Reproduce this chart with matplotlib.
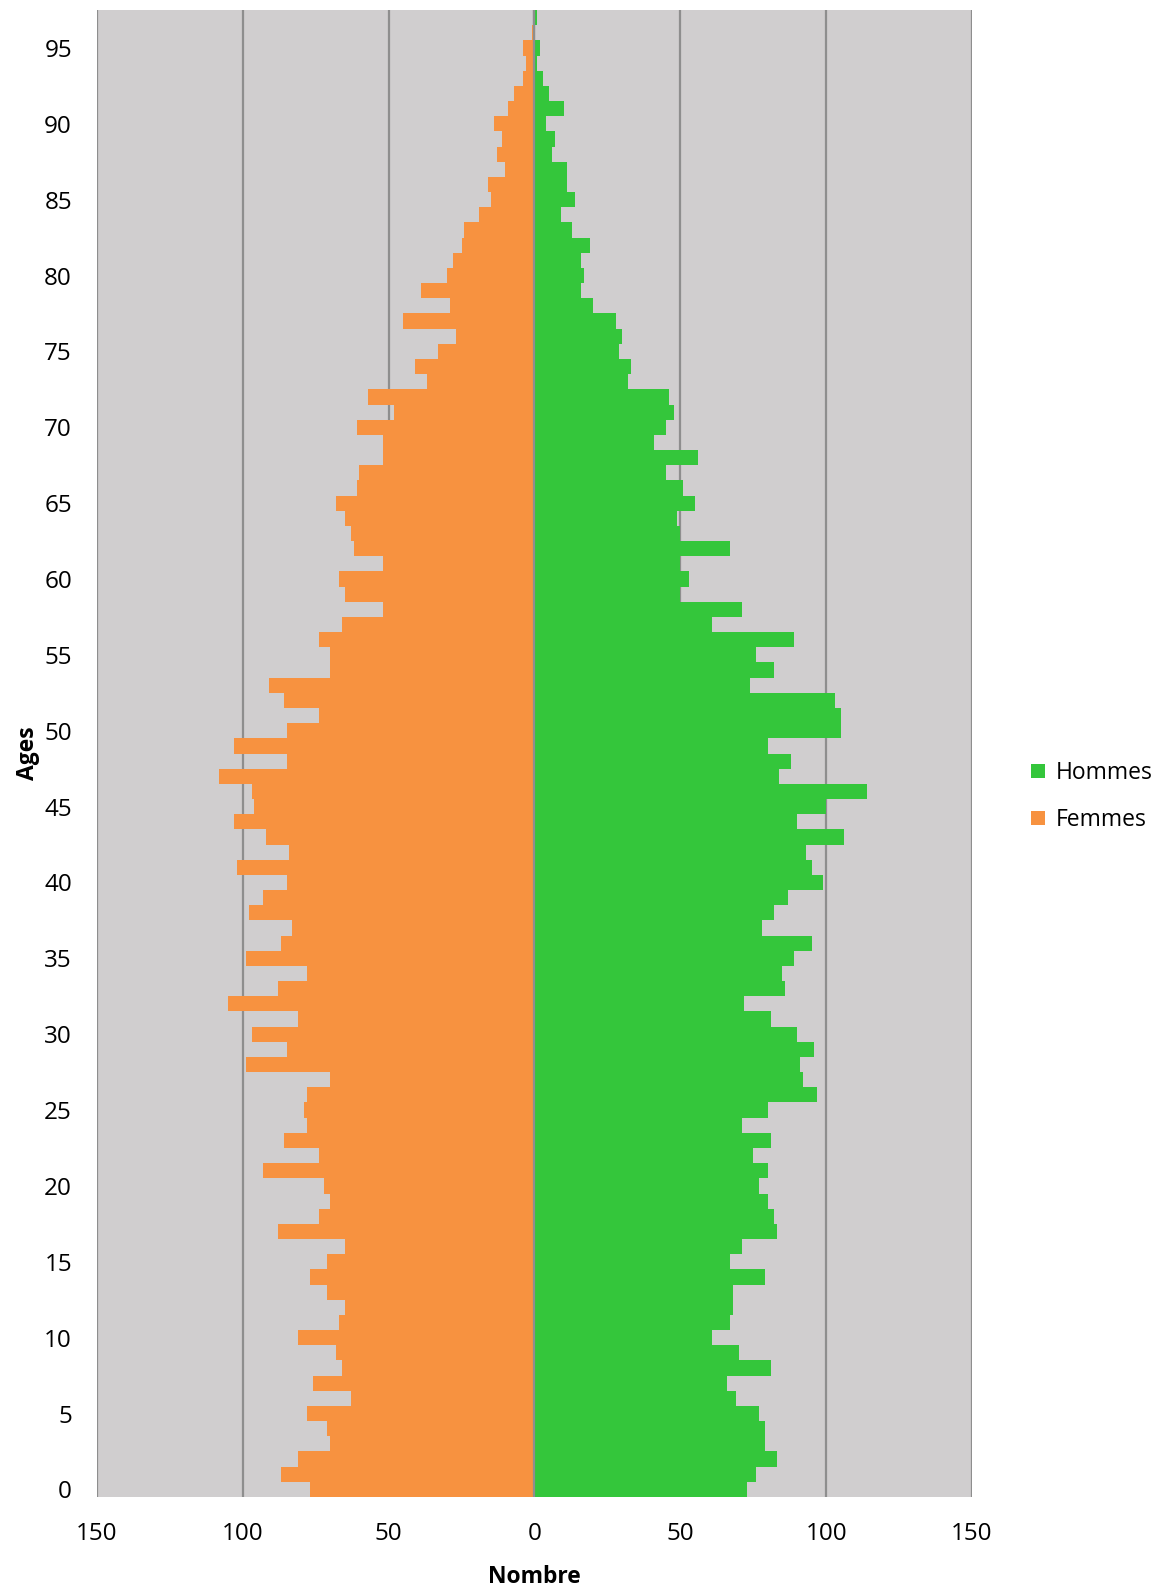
import matplotlib
matplotlib.use("Agg")
import matplotlib.pyplot as plt
import numpy as np

plt.rcParams['font.family'] = ['Open Sans', 'DejaVu Sans']

ages = list(range(0, 98))
hommes = [73, 76, 83, 79, 79, 77, 69, 66, 81, 70,
          61, 67, 68, 68, 79, 67, 71, 83, 82, 80,
          77, 80, 75, 81, 71, 80, 97, 92, 91, 96,
          90, 81, 72, 86, 85, 89, 95, 78, 82, 87,
          99, 95, 93, 106, 90, 100, 114, 84, 88, 80,
          105, 105, 103, 74, 82, 76, 89, 61, 71, 50,
          53, 50, 67, 50, 49, 55, 51, 45, 56, 41,
          45, 48, 46, 32, 33, 29, 30, 28, 20, 16,
          17, 16, 19, 13, 9, 14, 11, 11, 6, 7,
          4, 10, 5, 3, 1, 2, 0, 1]
femmes = [77, 87, 81, 70, 71, 78, 63, 76, 66, 68,
          81, 67, 65, 71, 77, 71, 65, 88, 74, 70,
          72, 93, 74, 86, 78, 79, 78, 70, 99, 85,
          97, 81, 105, 88, 78, 99, 87, 83, 98, 93,
          85, 102, 84, 92, 103, 96, 97, 108, 85, 103,
          85, 74, 86, 91, 70, 70, 74, 66, 52, 65,
          67, 52, 62, 63, 65, 68, 61, 60, 52, 52,
          61, 48, 57, 37, 41, 33, 27, 45, 29, 39,
          30, 28, 25, 24, 19, 15, 16, 10, 13, 11,
          14, 9, 7, 4, 3, 4, 1, 0]
xticks = [-150, -100, -50, 0, 50, 100, 150]
yticks = list(range(0, 100, 5))

fig = plt.figure(figsize=(11.64, 15.90), dpi=100)
ax = fig.add_axes([0.0833, 0.0585, 0.7517, 0.9352])
ax.set_facecolor('#D0CECF')

ax.barh(ages, hommes, height=1.0, color='#34C63B', label='Hommes', zorder=3)
ax.barh(ages, [-v for v in femmes], height=1.0, color='#F79240', label='Femmes', zorder=3)

ax.set_xlim(-150, 150)
ax.set_ylim(-0.5, 97.5)
ax.set_xticks(xticks)
ax.set_xticklabels([str(abs(v)) for v in xticks], fontsize=17.5)
ax.set_yticks(yticks)
ax.set_yticklabels([str(v) for v in yticks], fontsize=17.5)
ax.tick_params(length=0)
ax.tick_params(axis='x', pad=18)
ax.tick_params(axis='y', pad=18)
for v in xticks:
    ax.axvline(v, color='#8E8E8E', lw=1.6, zorder=2)
ax.axvline(0, color='#8E8E8E', lw=1.6, zorder=4)
for s in ax.spines.values():
    s.set_visible(False)

ax.set_xlabel('Nombre', fontsize=16.5, fontweight='bold', labelpad=14)
ax.set_ylabel('Ages', fontsize=16.5, fontweight='bold', labelpad=3)

leg = fig.legend(loc='center left', bbox_to_anchor=(0.868, 0.499), frameon=False,
                 fontsize=16.5, handlelength=0.6, handleheight=0.6, handletextpad=0.5,
                 labelspacing=1.0)

fig.savefig('out.png', dpi=100)
